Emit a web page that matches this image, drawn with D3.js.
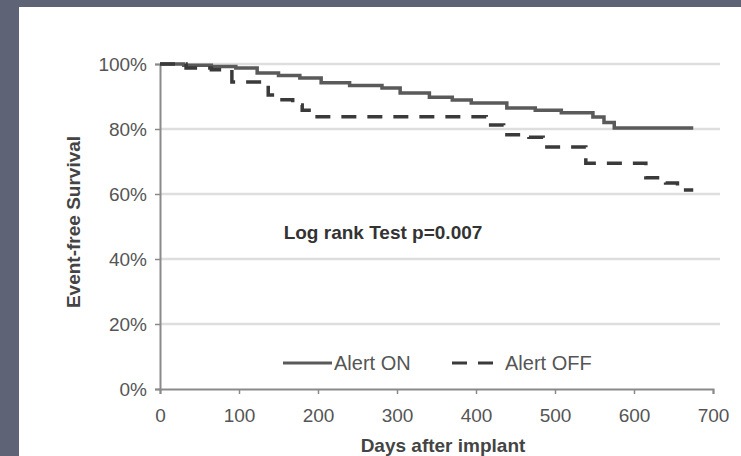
<!DOCTYPE html>
<html>
<head>
<meta charset="utf-8">
<script src="https://cdn.jsdelivr.net/npm/d3@7/dist/d3.min.js"></script>
<style>
  html, body { margin: 0; padding: 0; background: #5e6476; }
  svg { display: block; }
  text { font-family: "Liberation Sans", Arial, sans-serif; }
</style>
</head>
<body>
<script>
// Kaplan-Meier event-free survival, steps as (day, survival %)
const onDays  = [0, 30, 65, 96, 123, 150, 177, 204, 240, 281, 304, 341, 370, 394, 439, 475, 508, 548, 562, 575, 675];
const onSurv  = [100, 99.6, 99.2, 98.8, 97.2, 96.5, 95.7, 94.2, 93.4, 92.6, 91.1, 89.8, 88.9, 88, 86.5, 85.8, 85, 83.7, 82, 80.3, 80.3];
const offDays = [0, 33, 65, 91, 137, 152, 168, 180, 191, 394, 413, 435, 467, 485, 539, 615, 640, 655, 675];
const offSurv = [100, 98.8, 98.2, 94.5, 90.5, 89, 87.4, 85.8, 83.8, 83.8, 81.2, 78.2, 77.5, 74.5, 69.5, 65, 63.4, 61.2, 61.2];

const xTicks = [0, 100, 200, 300, 400, 500, 600, 700];
const yTicks = [0, 20, 40, 60, 80, 100];
const seriesNames = ["Alert ON", "Alert OFF"];
const yTitle = "Event-free Survival";
const xTitle = "Days after implant";
const note = "Log rank Test p=0.007";

const W = 741, H = 456;
const svg = d3.select("body").append("svg").attr("width", W).attr("height", H);

// slide backdrop and white panel
svg.append("rect").attr("width", W).attr("height", H).attr("fill", "#5e6476");
svg.append("rect").attr("x", 19).attr("y", 7).attr("width", W - 19).attr("height", H - 7).attr("fill", "#ffffff");

const x = d3.scaleLinear().domain([0, 700]).range([160, 713]);
const y = d3.scaleLinear().domain([0, 100]).range([389, 64]);

// horizontal gridlines
svg.append("g").selectAll("line").data(yTicks.filter(d => d > 0)).join("line")
  .attr("x1", x(0)).attr("x2", 720)
  .attr("y1", d => y(d)).attr("y2", d => y(d))
  .attr("stroke", "#dedede").attr("stroke-width", 2.5);

// axes
const xAxis = svg.append("g").attr("transform", `translate(0,${y(0)})`)
  .call(d3.axisBottom(x).tickValues(xTicks).tickSize(5).tickPadding(15).tickFormat(d3.format("d")));
const yAxis = svg.append("g").attr("transform", `translate(${x(0)},0)`)
  .call(d3.axisLeft(y).tickValues(yTicks).tickSize(5).tickPadding(8).tickFormat(d => d + "%"));
[xAxis, yAxis].forEach(g => {
  g.select(".domain").attr("stroke", "#8a8a8a").attr("stroke-width", 2);
  g.selectAll(".tick line").attr("stroke", "#8a8a8a").attr("stroke-width", 1.5);
  g.selectAll(".tick text").attr("fill", "#555").attr("font-size", 19)
    .attr("font-family", "'Liberation Sans', Arial, sans-serif");
});

// survival step curves
const line = d3.line().x(d => x(d[0])).y(d => y(d[1])).curve(d3.curveStepAfter);
const onData = d3.zip(onDays, onSurv);
const offData = d3.zip(offDays, offSurv);

svg.append("path").datum(onData).attr("d", line)
  .attr("fill", "none").attr("stroke", "#5a5a5a").attr("stroke-width", 3.5);
svg.append("path").datum(offData).attr("d", line)
  .attr("fill", "none").attr("stroke", "#3a3a3a").attr("stroke-width", 3.5)
  .attr("stroke-dasharray", "15,11");

// annotation
svg.append("text").attr("x", 383).attr("y", 239).attr("text-anchor", "middle")
  .attr("font-size", 19).attr("font-weight", "bold").attr("fill", "#333").text(note);

// legend
svg.append("line").attr("x1", 283).attr("x2", 332).attr("y1", 363).attr("y2", 363)
  .attr("stroke", "#5a5a5a").attr("stroke-width", 3);
svg.append("text").attr("x", 334).attr("y", 370).attr("font-size", 20).attr("fill", "#555").text(seriesNames[0]);
svg.append("line").attr("x1", 452).attr("x2", 500).attr("y1", 363).attr("y2", 363)
  .attr("stroke", "#3a3a3a").attr("stroke-width", 3).attr("stroke-dasharray", "15,11");
svg.append("text").attr("x", 505).attr("y", 370).attr("font-size", 20).attr("fill", "#555").text(seriesNames[1]);

// axis titles
svg.append("text").attr("transform", "translate(80,222) rotate(-90)").attr("text-anchor", "middle")
  .attr("font-size", 19).attr("font-weight", "bold").attr("fill", "#444").text(yTitle);
svg.append("text").attr("x", 443).attr("y", 452).attr("text-anchor", "middle")
  .attr("font-size", 19).attr("font-weight", "bold").attr("fill", "#444").text(xTitle);
</script>
</body>
</html>
